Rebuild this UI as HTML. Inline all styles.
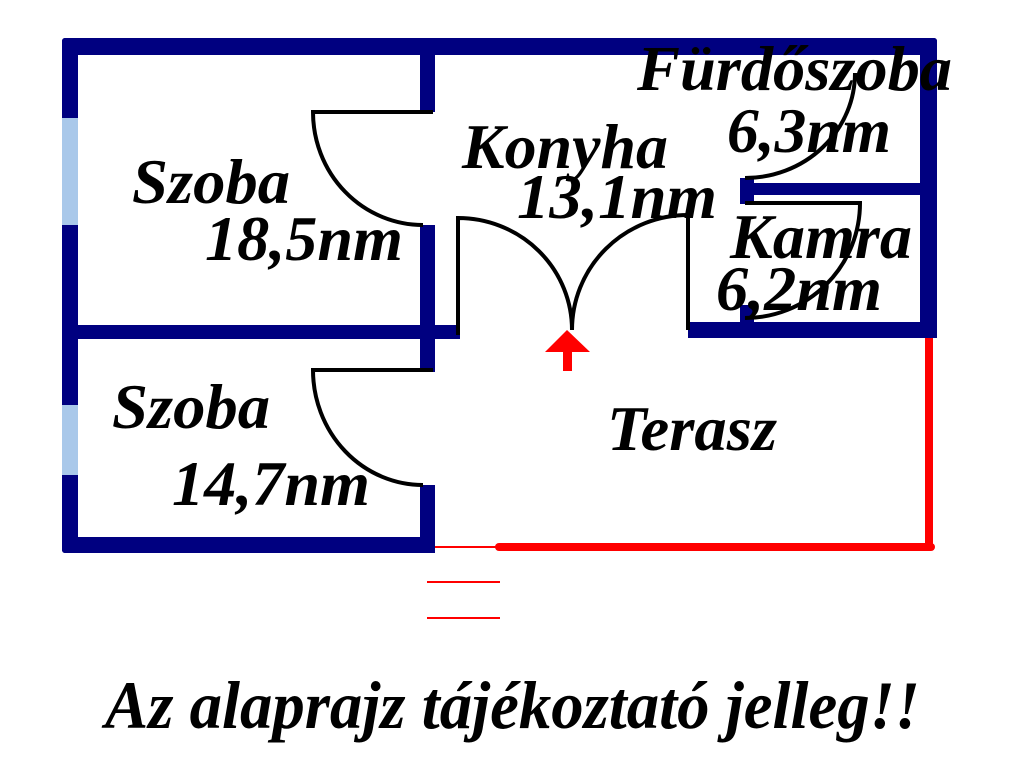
<!DOCTYPE html>
<html><head><style>body{margin:0;background:#fff}svg{display:block}text{font-family:"Liberation Serif","Times New Roman",serif;font-weight:bold;font-style:italic;fill:#000}</style></head>
<body><svg width="1024" height="768" viewBox="0 0 1024 768">
<g fill="#000080">
<rect x="62" y="38" width="875" height="17" rx="3"/>
<rect x="62" y="38" width="16" height="515" rx="3"/>
<rect x="920" y="38" width="17" height="300" rx="3"/>
<rect x="688" y="322" width="249" height="16"/>
<rect x="420" y="38" width="15" height="74"/>
<rect x="420" y="225" width="15" height="110"/>
<rect x="62" y="325" width="398" height="14"/>
<rect x="420" y="330" width="15" height="42"/>
<rect x="420" y="485" width="15" height="68"/>
<rect x="62" y="537" width="373" height="16" rx="3"/>
<rect x="745" y="183" width="192" height="12"/>
<rect x="740" y="178" width="14" height="26"/>
<rect x="740" y="305" width="14" height="20"/>
</g>
<g fill="#a9c8ea">
<rect x="62" y="118" width="16" height="107"/>
<rect x="62" y="405" width="16" height="70"/>
</g>
<g fill="none" stroke="#000" stroke-width="4">
<path d="M433 112 H313 A110 113 0 0 0 423 225"/>
<path d="M433 370 H313 A110 115 0 0 0 423 485"/>
<path d="M458 335 V218 A114 112 0 0 1 572 330"/>
<path d="M688 330 V215 A116 115 0 0 0 572 330"/>
<path d="M745 203 H860 A115 115 0 0 1 745 318"/>
<path d="M745 178 A110 105 0 0 0 855 73"/>
</g>
<g fill="#f00">
<rect x="925" y="338" width="8" height="212"/>
<rect x="495" y="543" width="440" height="8" rx="4"/>
<rect x="435" y="546" width="62" height="2"/>
<rect x="427" y="581" width="73" height="2"/>
<rect x="427" y="617" width="73" height="2"/>
<polygon points="567,330 545,352 590,352"/>
<rect x="563" y="350" width="9" height="21"/>
</g>
<g font-size="64">
<text x="132" y="203" textLength="158" lengthAdjust="spacingAndGlyphs">Szoba</text>
<text x="205" y="260" textLength="198" lengthAdjust="spacingAndGlyphs">18,5nm</text>
<text x="462" y="168" textLength="206" lengthAdjust="spacingAndGlyphs">Konyha</text>
<text x="517" y="218" textLength="200" lengthAdjust="spacingAndGlyphs">13,1nm</text>
<text x="637" y="90" textLength="315" lengthAdjust="spacingAndGlyphs">Fürdőszoba</text>
<text x="727" y="152" textLength="164" lengthAdjust="spacingAndGlyphs">6,3nm</text>
<text x="730" y="258" textLength="182" lengthAdjust="spacingAndGlyphs">Kamra</text>
<text x="716" y="310" textLength="166" lengthAdjust="spacingAndGlyphs">6,2nm</text>
<text x="112" y="428" textLength="158" lengthAdjust="spacingAndGlyphs">Szoba</text>
<text x="172" y="505" textLength="198" lengthAdjust="spacingAndGlyphs">14,7nm</text>
<text x="607" y="450" textLength="170" lengthAdjust="spacingAndGlyphs">Terasz</text>
</g>
<text x="105" y="728" font-size="68" textLength="815" lengthAdjust="spacingAndGlyphs">Az alaprajz tájékoztató jelleg!!</text>
</svg></body></html>
